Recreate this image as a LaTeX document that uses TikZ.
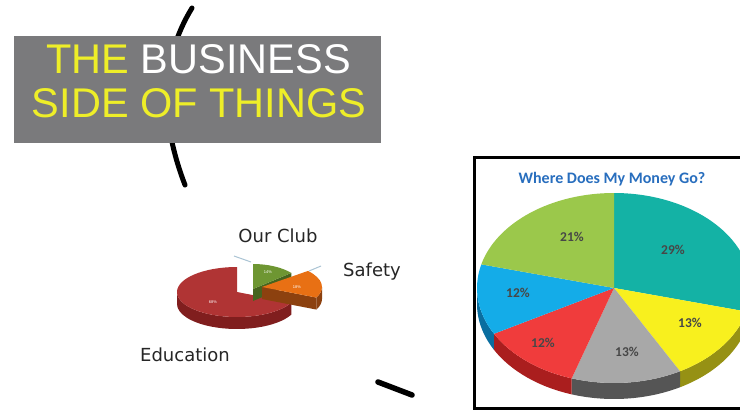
\documentclass[tikz,border=0pt]{standalone}
\usepackage{fontspec}
\setmainfont{Liberation Sans}
\newfontfamily\labfont{DejaVu Sans}
\newfontfamily\calfont{Carlito}
\definecolor{boxgray}{RGB}{122,122,124}
\definecolor{ttlyellow}{RGB}{238,238,40}
\definecolor{qblue}{RGB}{40,110,190}
\definecolor{cteal}{RGB}{20,178,165}
\definecolor{cteals}{RGB}{10,120,110}
\definecolor{cyellow}{RGB}{248,240,30}
\definecolor{cyellows}{RGB}{150,145,20}
\definecolor{cgray}{RGB}{168,168,168}
\definecolor{cgrays}{RGB}{85,85,85}
\definecolor{cred}{RGB}{240,60,60}
\definecolor{creds}{RGB}{170,30,30}
\definecolor{cblue}{RGB}{20,172,232}
\definecolor{cblues}{RGB}{10,110,160}
\definecolor{cgreen}{RGB}{155,200,75}
\definecolor{sred}{RGB}{176,52,52}
\definecolor{sreds}{RGB}{128,30,30}
\definecolor{sgreen}{RGB}{110,150,50}
\definecolor{sgreens}{RGB}{70,100,30}
\definecolor{sorange}{RGB}{232,112,20}
\definecolor{soranges}{RGB}{140,65,15}
\definecolor{leader}{RGB}{170,196,212}
\newcommand\wtop[5]{\fill[#1] (0,0) -- (#2:#4 and #5) arc[start angle=#2,end angle=#3,x radius=#4,y radius=#5] -- cycle;}
\newcommand\wside[6]{\fill[#1] (#2:#4 and #5) arc[start angle=#2,end angle=#3,x radius=#4,y radius=#5] -- ++(0,-#6) arc[start angle=#3,end angle=#2,x radius=#4,y radius=#5] -- cycle;}
\tikzset{
  stroke/.style={line width=5pt, line cap=round},
  ttl/.style={anchor=base, font=\fontsize{41.5}{41.5}\selectfont, inner sep=0pt},
  smlab/.style={font=\labfont\fontsize{18}{18}\selectfont, text=black!85},
  tinylab/.style={font=\fontsize{4}{4}\selectfont, text=white},
  pct/.style={font=\calfont\bfseries\fontsize{13.5}{13.5}\selectfont, text=black!72},
}
\begin{document}
\begin{tikzpicture}[x=1pt,y=1pt]
\useasboundingbox (0,0) rectangle (740,-415);
\fill[white] (0,0) rectangle (740,-415);
% black strokes
\coordinate (arcA) at (192,-8);
\coordinate (arcB) at (185,-185);
\draw[stroke] (arcA) .. controls (160,-60) and (160,-120) .. (arcB);
\coordinate (dashA) at (378,-382);
\coordinate (dashB) at (412,-395);
\draw[stroke, line width=5.5pt] (dashA) -- (dashB);
% title box
\node[fill=boxgray, minimum width=367, minimum height=107, anchor=north west, inner sep=0pt] (box) at (14,-36) {};
\node[ttl] (line1) at (198.5,-73) {\textcolor{ttlyellow}{THE} \textcolor{white}{BUSINESS}};
\node[ttl, text=ttlyellow] (line2) at (199,-117) {SIDE OF THINGS};
% small pie
\begin{scope}[shift={(237,-292)}]
  \wside{sreds}{180}{335}{60}{25}{12}
  \wtop{sred}{90}{335}{60}{25}
  \node[tinylab] (p68) at (-24,-10) {68\%};
\end{scope}
\begin{scope}[shift={(253,-289)}]
  \fill[sgreens] (0,0) -- (40:50 and 25) -- ++(0,-12) -- (0,-12) -- cycle;
  \wtop{sgreen}{40}{90}{50}{25}
  \node[tinylab] (p14) at (15,17) {14\%};
\end{scope}
\begin{scope}[shift={(262,-287)}]
  \fill[soranges] (0,0) -- (-25:60 and 25) -- ++(0,-12) -- (0,-12) -- cycle;
  \wside{soranges}{-25}{0}{60}{25}{12}
  \wtop{sorange}{-25}{40}{60}{25}
  \node[tinylab] (p18) at (35,0) {18\%};
\end{scope}
\coordinate (lc1) at (234,-256);
\coordinate (lc2) at (251,-262);
\coordinate (ls1) at (309,-271);
\coordinate (ls2) at (321,-266);
\draw[leader, line width=1pt] (lc1) -- (lc2);
\draw[leader, line width=1pt] (ls1) -- (ls2);
\node[smlab] (club) at (278,-236) {Our Club};
\node[smlab] (safety) at (372,-272) {Safety};
\node[smlab] (edu) at (185,-355) {Education};
% right chart
\begin{scope}
\clip (475.5,-158.5) rectangle (740,-406.5);
\begin{scope}[shift={(614,-288)}]
  \wside{cteals}{0}{-14.4}{137}{95}{16}
  \wside{cyellows}{-14.4}{-61.2}{137}{95}{16}
  \wside{cgrays}{-61.2}{-108}{137}{95}{16}
  \wside{creds}{-108}{-151.2}{137}{95}{16}
  \wside{cblues}{-151.2}{-180}{137}{95}{16}
  \wtop{cteal}{90}{-14.4}{137}{95}
  \wtop{cyellow}{-14.4}{-61.2}{137}{95}
  \wtop{cgray}{-61.2}{-108}{137}{95}
  \wtop{cred}{-108}{-151.2}{137}{95}
  \wtop{cblue}{-151.2}{-194.4}{137}{95}
  \wtop{cgreen}{-194.4}{-270}{137}{95}
\end{scope}
\end{scope}
\draw[line width=3pt] (474,-157) rectangle (746,-408);
\node[font=\calfont\bfseries\fontsize{16}{16}\selectfont, text=qblue] (qtitle) at (612,-179) {Where Does My Money Go?};
\node[pct] (q29) at (673,-250) {29\%};
\node[pct] (q21) at (572,-237) {21\%};
\node[pct] (q12a) at (518,-293) {12\%};
\node[pct] (q12b) at (543,-343) {12\%};
\node[pct] (q13a) at (627,-352) {13\%};
\node[pct] (q13b) at (690,-323) {13\%};
\end{tikzpicture}
\end{document}
